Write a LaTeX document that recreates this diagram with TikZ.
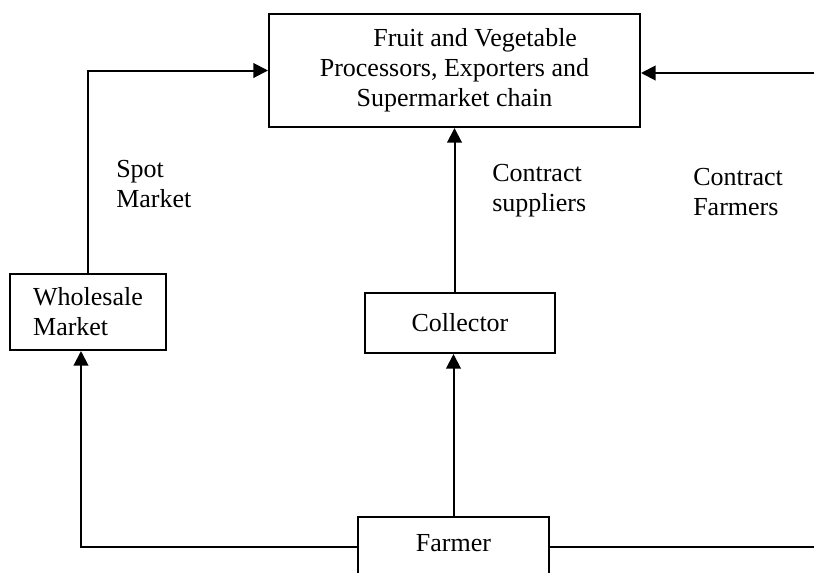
\documentclass[tikz,border=0pt]{standalone}
\usepackage{fontspec}
\setmainfont{Liberation Serif}
\usetikzlibrary{arrows.meta}

\begin{document}
\begin{tikzpicture}[x=0.75pt,y=0.75pt,yscale=-1,xscale=1,
	box/.style={draw,line width=1.5pt,inner sep=0pt,align=center},
	lbl/.style={anchor=north west,inner sep=0pt,align=left},
	link/.style={line width=1.5pt},
	flow/.style={link,-{Triangle[length=11pt,width=11pt]}},
	font=\fontsize{19.5}{22.5}\selectfont]
	\useasboundingbox (0,0) rectangle (814,572);
	\clip (0,0) rectangle (814,572);
	\node [box,minimum width=278.25pt,minimum height=84.75pt,text depth=4pt] (proc) at (454.5,70.5) {\hspace*{31pt}Fruit and Vegetable\\Processors, Exporters and\\Supermarket chain};
	\node [box,align=left,minimum width=117pt,minimum height=57pt] (whole) at (88,312) {Wholesale\\Market};
	\node [box,minimum width=142.5pt,minimum height=45pt] (coll) at (460,323) {Collector};
	\node [box,anchor=north,minimum width=143.25pt,inner ysep=12.5pt,text height=13pt,text depth=50pt] (farm) at (453.5,516) {Farmer};
	\coordinate (rt) at (814,73);
	\coordinate (fl) at (81,547);
	\coordinate (fr) at (814,547);
	\draw [flow] (whole.north) |- (proc.west);
	\draw [flow] (rt) -- (proc.east |- rt);
	\draw [flow] (proc.south |- coll.north) -- (proc.south);
	\draw [flow] (farm.north) -- (farm.north |- coll.south);
	\draw [flow] (farm.north west |- fl) -- (fl) -- (fl |- whole.south);
	\draw [link] (farm.north east |- fr) -- (fr);
	\node [lbl] (spot) at (116,160) {Spot\\Market};
	\node [lbl] (supp) at (492,164) {Contract\\suppliers};
	\node [lbl] (cfarm) at (693,168) {Contract\\Farmers};
\end{tikzpicture}
\end{document}
